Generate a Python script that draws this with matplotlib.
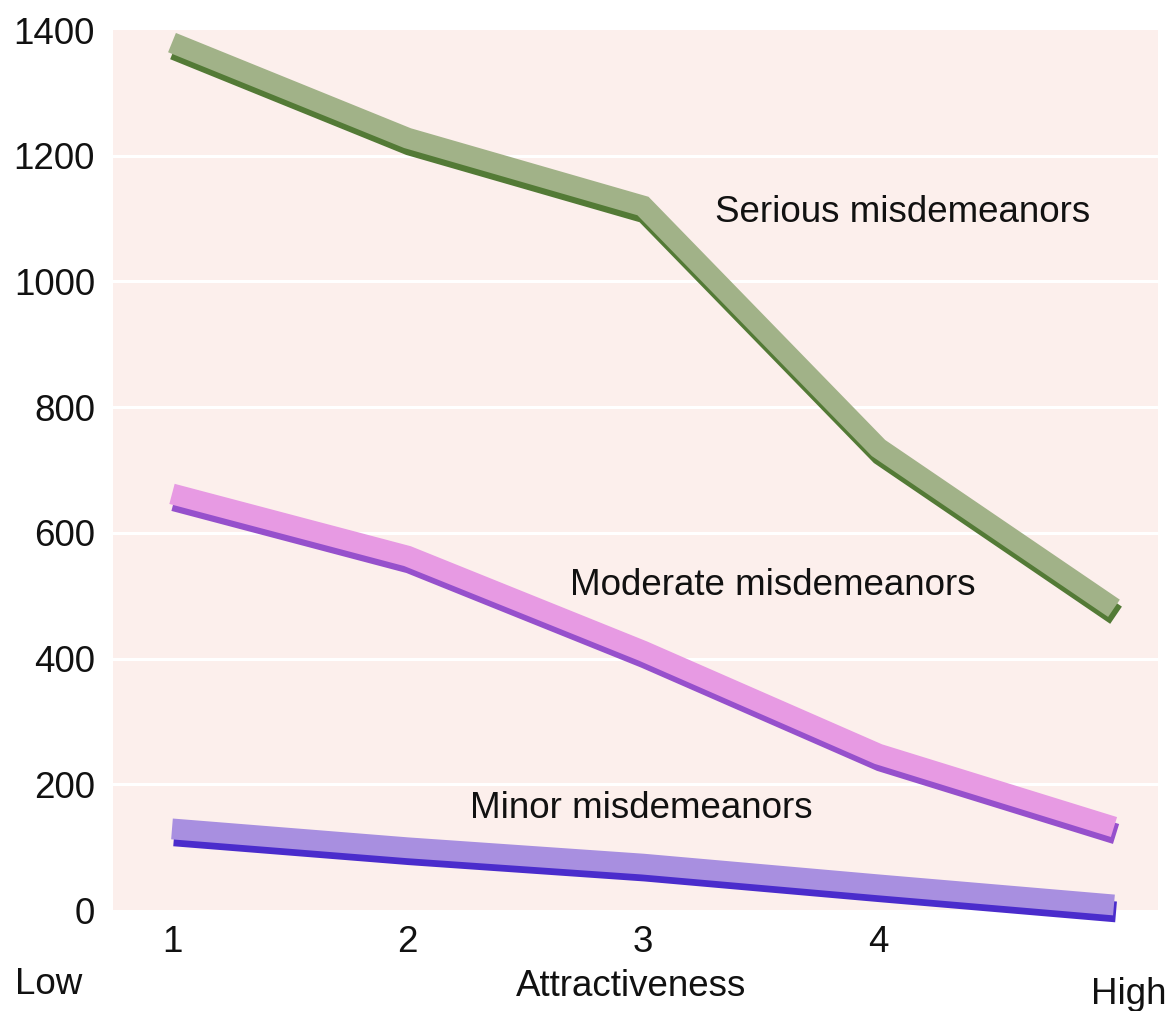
import matplotlib
matplotlib.use("Agg")
import matplotlib.pyplot as plt
import matplotlib.patheffects as pe

# attractiveness rating (1 = low, 5 = high)
attractiveness = [1, 2, 3, 4, 5]
serious = [1380, 1228, 1120, 735, 480]
moderate = [662, 563, 412, 248, 132]
minor = [129, 99, 73, 40, 8]

y_ticks = [0, 200, 400, 600, 800, 1000, 1200, 1400]
x_ticks = [1, 2, 3, 4]

plt.rcParams["font.family"] = ["Liberation Sans", "DejaVu Sans"]

fig = plt.figure(figsize=(11.71, 10.11), dpi=100)
ax = fig.add_axes([0.0965, 0.0999, 0.8924, 0.8704])
ax.set_facecolor("#fcefec")

# white grid lines across the pink panel
for yv in y_ticks[1:-1]:
    ax.axhline(yv, color="white", linewidth=2.2, zorder=1)

series = [
    (serious, "#a1b288", "#537a36", "Serious misdemeanors", 3.306, 1109),
    (moderate, "#e79ae3", "#9650cc", "Moderate misdemeanors", 2.690, 517),
    (minor, "#a88fe0", "#4a2ccc", "Minor misdemeanors", 2.265, 162),
]

for values, light, dark, label, lx, ly in series:
    line, = ax.plot(
        attractiveness, values,
        color=light, linewidth=15,
        solid_capstyle="butt", solid_joinstyle="miter",
        zorder=3, clip_on=False,
    )
    line.set_path_effects([
        pe.SimpleLineShadow(offset=(1.5, -5), shadow_color=dark, alpha=1),
        pe.Normal(),
    ])
    ax.text(lx, ly, label, fontsize=26.5, ha="left", va="center", color="#111111", zorder=4)

ax.set_xlim(0.7495, 5.187)
ax.set_ylim(0, 1400)
ax.set_yticks(y_ticks)
ax.set_yticklabels([str(v) for v in y_ticks])
ax.set_xticks(x_ticks)
ax.set_xticklabels([str(v) for v in x_ticks])
ax.tick_params(axis="y", length=0, pad=13, labelsize=26.5, labelcolor="#111111")
ax.tick_params(axis="x", length=0, pad=11, labelsize=26.5, labelcolor="#111111")
for s in ax.spines.values():
    s.set_visible(False)

fig.text(0.0128, 0.026, "Low", fontsize=26.5, ha="left", va="center", color="#111111")
fig.text(0.539, 0.024, "Attractiveness", fontsize=26.5, ha="center", va="center", color="#111111")
fig.text(0.996, 0.016, "High", fontsize=26.5, ha="right", va="center", color="#111111")

fig.savefig("out.png", dpi=100, facecolor="white")
